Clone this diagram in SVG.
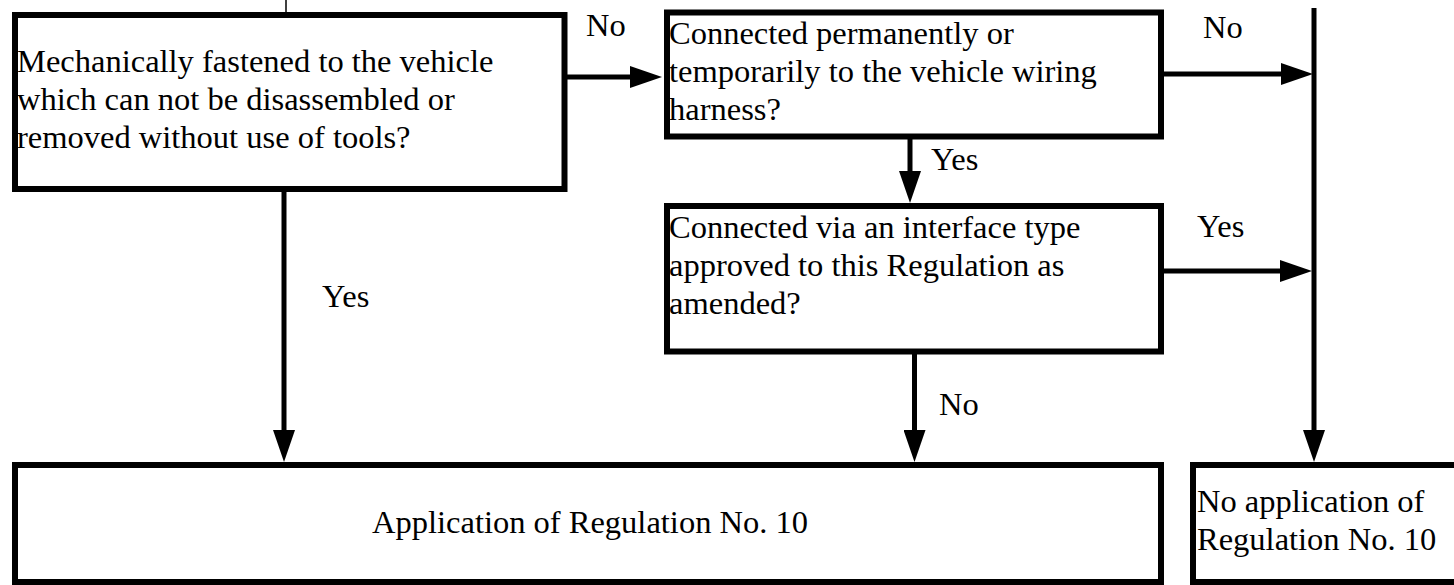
<svg xmlns="http://www.w3.org/2000/svg" width="1454" height="585" viewBox="0 0 1454 585">
  <style>
    .box { fill: #fff; stroke: #000; stroke-width: 6; }
    .t { font-family: "Liberation Serif", "Times New Roman", serif; font-size: 32.5px; fill: #000; }
    .c { fill: none; stroke: #000; stroke-width: 5; }
  </style>
  <defs>
    <marker id="ah" markerUnits="userSpaceOnUse" markerWidth="32" markerHeight="22" viewBox="0 0 32 22" refX="16" refY="11" orient="auto">
      <path d="M0,0 L32,11 L0,22 z" fill="#000"/>
    </marker>
  </defs>
  <rect width="1454" height="585" fill="#fff"/>

  <g id="connectors">
    <line x1="286" y1="0" x2="286" y2="12" stroke="#000" stroke-width="1.5"/>
    <line class="c" x1="567" y1="77" x2="646" y2="77" marker-end="url(#ah)"/>
    <line class="c" x1="1164" y1="74" x2="1297" y2="74" marker-end="url(#ah)"/>
    <line class="c" x1="1314" y1="8" x2="1314" y2="446" marker-end="url(#ah)"/>
    <line class="c" x1="910" y1="139" x2="910" y2="187" marker-end="url(#ah)"/>
    <line class="c" x1="1164" y1="271" x2="1296" y2="271" marker-end="url(#ah)"/>
    <line class="c" x1="914.5" y1="354" x2="914.5" y2="446" marker-end="url(#ah)"/>
    <line class="c" x1="284" y1="192" x2="284" y2="446" stroke-width="7" marker-end="url(#ah)"/>
    <text class="t" x="586" y="36">No</text>
    <text class="t" x="1203" y="38">No</text>
    <text class="t" x="931" y="170">Yes</text>
    <text class="t" x="1197" y="237">Yes</text>
    <text class="t" x="322" y="307">Yes</text>
    <text class="t" x="939" y="415">No</text>
  </g>

  <g id="n1">
    <rect class="box" x="15" y="15" width="549.5" height="174"/>
    <text class="t" x="17" y="72">Mechanically fastened to the vehicle</text>
    <text class="t" x="17" y="110">which can not be disassembled or</text>
    <text class="t" x="17" y="148">removed without use of tools?</text>
  </g>

  <g id="n2">
    <rect class="box" x="667" y="12.5" width="494" height="124"/>
    <text class="t" x="669" y="44">Connected permanently or</text>
    <text class="t" x="669" y="82">temporarily to the vehicle wiring</text>
    <text class="t" x="669" y="120">harness?</text>
  </g>

  <g id="n3">
    <rect class="box" x="667" y="206" width="494" height="145.5"/>
    <text class="t" x="669" y="238">Connected via an interface type</text>
    <text class="t" x="669" y="276">approved to this Regulation as</text>
    <text class="t" x="669" y="314">amended?</text>
  </g>

  <g id="n4">
    <rect class="box" x="15" y="465" width="1146" height="117"/>
    <text class="t" x="590" y="533" text-anchor="middle">Application of Regulation No. 10</text>
  </g>

  <g id="n5">
    <rect class="box" x="1193" y="465" width="300" height="117"/>
    <text class="t" x="1197" y="512">No application of</text>
    <text class="t" x="1197" y="550">Regulation No. 10</text>
  </g>
</svg>
